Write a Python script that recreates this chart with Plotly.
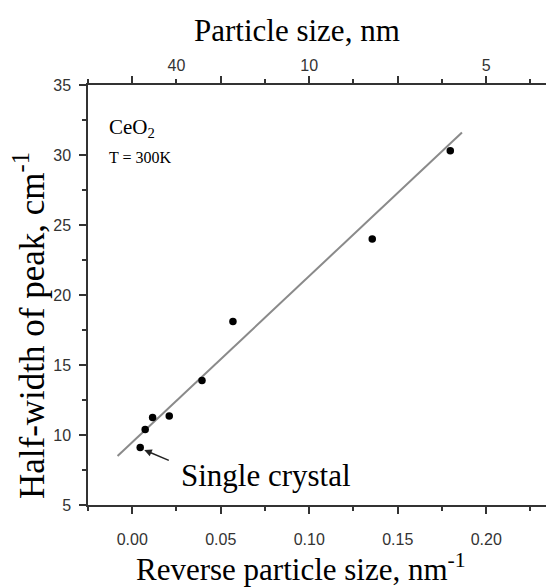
import plotly.graph_objects as go

# Data
x_vals = [0.0045, 0.0073, 0.0115, 0.0209, 0.0394, 0.0569, 0.1356, 0.1797]
y_vals = [9.1, 10.4, 11.25, 11.35, 13.9, 18.1, 24.0, 30.3]
fit_x = [-0.0083, 0.1863]
fit_y = [8.5, 31.6]
top_tick_vals = [0.025, 0.1, 0.2]
top_tick_text = ["40", "10", "5"]

XR = [-0.025, 0.2383]
YR = [5, 35]
SERIF = "Liberation Serif, Times New Roman, serif"
SANS = "Liberation Sans, Arial, sans-serif"
TICKC = "#333333"

fig = go.Figure()
fig.add_trace(go.Scatter(x=fit_x, y=fit_y, mode="lines",
                         line=dict(color="#8a8a8a", width=2), showlegend=False, hoverinfo="skip"))
fig.add_trace(go.Scatter(x=x_vals, y=y_vals, mode="markers",
                         marker=dict(color="black", size=7.5), showlegend=False))
# dummy traces to create top and right axes
fig.add_trace(go.Scatter(x=[None], y=[None], xaxis="x2", yaxis="y", showlegend=False, hoverinfo="skip"))
fig.add_trace(go.Scatter(x=[None], y=[None], xaxis="x", yaxis="y2", showlegend=False, hoverinfo="skip"))

fig.update_layout(
    width=546, height=579,
    margin=dict(l=80, r=0, t=77, b=82),
    paper_bgcolor="white", plot_bgcolor="white",
    xaxis=dict(range=XR, tick0=0, dtick=0.05, tickformat=".2f",
               showgrid=False, zeroline=False,
               showline=True, linecolor=TICKC, linewidth=1.5, mirror="ticks",
               ticks="outside", ticklen=7, tickwidth=1.5, tickcolor=TICKC,
               minor=dict(dtick=0.025, tick0=0, ticks="outside", ticklen=4, tickwidth=1.5, tickcolor=TICKC),
               tickfont=dict(family=SANS, size=16, color=TICKC),
               ticklabelstandoff=12),
    xaxis2=dict(range=XR, overlaying="x", side="top", anchor="y",
                tickmode="array", tickvals=top_tick_vals, ticktext=top_tick_text,
                showgrid=False, zeroline=False, showline=False,
                ticks="outside", ticklen=7, tickwidth=1.5, tickcolor="rgba(0,0,0,0)",
                tickfont=dict(family=SANS, size=16, color=TICKC),
                ticklabelstandoff=0),
    yaxis=dict(range=YR, tick0=5, dtick=5,
               showgrid=False, zeroline=False,
               showline=True, linecolor=TICKC, linewidth=1.5,
               ticks="outside", ticklen=7, tickwidth=1.5, tickcolor=TICKC,
               minor=dict(dtick=2.5, tick0=5, ticks="outside", ticklen=4, tickwidth=1.5, tickcolor=TICKC),
               tickfont=dict(family=SANS, size=16, color=TICKC),
               ticklabelstandoff=5),
    yaxis2=dict(range=YR, overlaying="y", side="right", anchor="x",
                tick0=5, dtick=5, showticklabels=False,
                showgrid=False, zeroline=False, showline=False,
                ticks="inside", ticklen=6, tickwidth=1.5, tickcolor=TICKC,
                minor=dict(dtick=2.5, tick0=5, ticks="inside", ticklen=3, tickwidth=1.5, tickcolor=TICKC)),
)

# plot area in figure pixels: left 80, right 546, top 77, bottom 497 (page offset 8px)
annots = [
    dict(text="Particle size, nm", x=(289 - 80) / 466, y=(497 - 22) / 420, xref="paper", yref="paper",
         showarrow=False, xanchor="center", yanchor="middle",
         font=dict(family=SERIF, size=31, color="black")),
    dict(text="Reverse particle size, nm<sup>-1</sup>", x=(293 - 80) / 466, y=(497 - 559) / 420,
         xref="paper", yref="paper",
         showarrow=False, xanchor="center", yanchor="middle",
         font=dict(family=SERIF, size=31, color="black")),
    dict(text="Half-width of peak, cm<sup>-1</sup>", x=(21 - 80) / 466, y=(497 - 318) / 420,
         xref="paper", yref="paper",
         showarrow=False, xanchor="center", yanchor="middle", textangle=-90,
         font=dict(family=SERIF, size=35, color="black")),
    dict(text="CeO<sub>2</sub>", x=-0.0145, y=31.9, xref="x", yref="y",
         showarrow=False, xanchor="left", yanchor="middle",
         font=dict(family=SERIF, size=21, color="black")),
    dict(text="T = 300K", x=-0.0145, y=29.85, xref="x", yref="y",
         showarrow=False, xanchor="left", yanchor="middle",
         font=dict(family=SERIF, size=16, color="black")),
    dict(text="Single crystal", x=0.0265, y=7.1, xref="x", yref="y",
         showarrow=False, xanchor="left", yanchor="middle",
         font=dict(family=SERIF, size=31, color="black")),
    dict(text="", x=0.0068, y=8.93, xref="x", yref="y",
         ax=0.0215, ay=8.14, axref="x", ayref="y",
         showarrow=True, arrowhead=2, arrowsize=1, arrowwidth=1.5, arrowcolor="#222222"),
]
fig.update_layout(annotations=annots)

fig.write_html("out.html")
